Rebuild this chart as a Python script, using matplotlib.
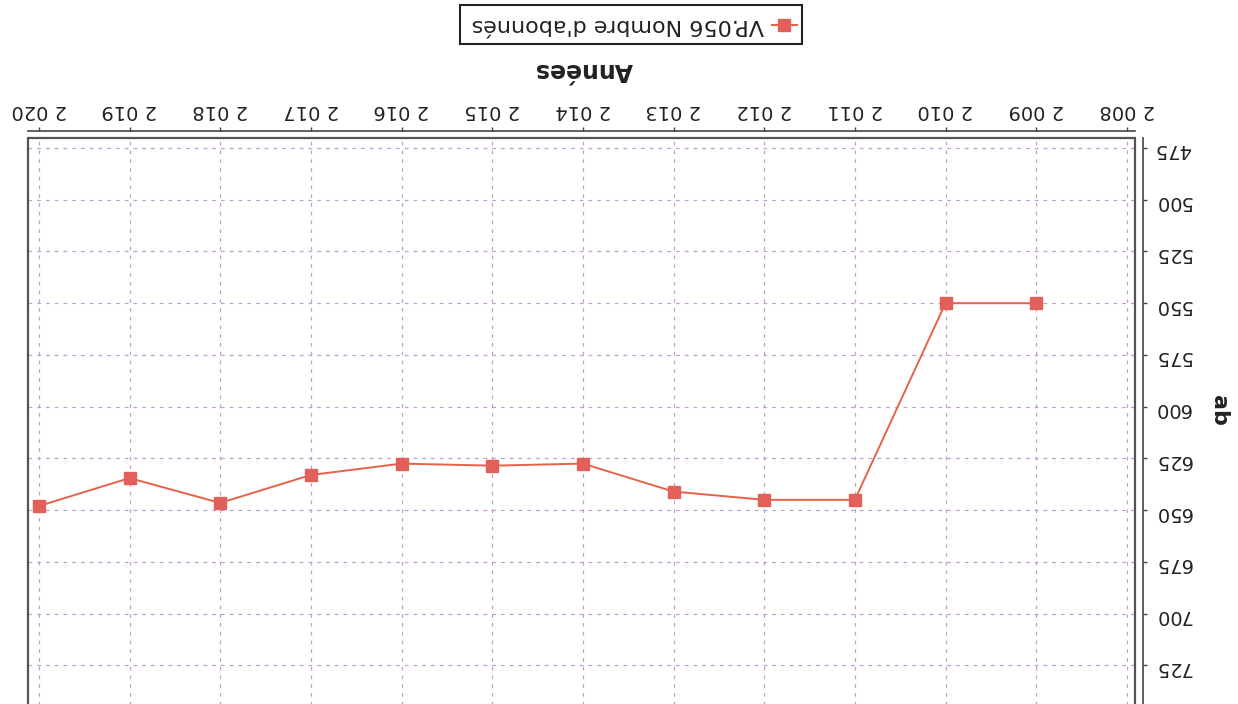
import matplotlib
matplotlib.use("Agg")
import matplotlib.pyplot as plt
from matplotlib.patches import Rectangle
from matplotlib.lines import Line2D

# Data (the reference is shown rotated by 180 degrees)
years = [2009, 2010, 2011, 2012, 2013, 2014, 2015, 2016, 2017, 2018, 2019, 2020]
abonnes = [550, 550, 645, 645, 641, 627.5, 628.5, 627.5, 633, 646.5, 634.5, 648]
x_ticks = [2008, 2009, 2010, 2011, 2012, 2013, 2014, 2015, 2016, 2017, 2018, 2019, 2020]
x_tick_labels = ["2 008", "2 009", "2 010", "2 011", "2 012", "2 013", "2 014",
                 "2 015", "2 016", "2 017", "2 018", "2 019", "2 020"]
y_ticks = [475, 500, 525, 550, 575, 600, 625, 650, 675, 700, 725]
y_tick_labels = [str(v) for v in y_ticks]
series_name = "VP.056 Nombre d'abonnés"
x_label = "Années"
y_label = "ab"

W, H = 1238, 704
fig = plt.figure(figsize=(W / 100, H / 100), dpi=100)
fig.patch.set_facecolor("white")

def fx(px):
    return px / W

def fy(py):
    return 1 - py / H

left, right, top, bottom = 28, 1135, 138, 718
ax = fig.add_axes([fx(left), fy(bottom), fx(right - left), fy(top) - fy(bottom)])

line_color = "#e8614a"
marker_color = "#e2605a"
ax.plot(years, abonnes, color=line_color, lw=1.4, marker="s", markersize=8.5,
        markerfacecolor=marker_color, markeredgecolor=marker_color, zorder=3)

# rotated view: x reversed, y reversed
ax.set_xlim(2020.12, 2007.91)
ax.set_ylim(750.4, 470.2)

ax.xaxis.tick_top()
ax.yaxis.tick_right()
ax.set_xticks(x_ticks)
ax.set_xticklabels(x_tick_labels)
ax.set_yticks(y_ticks)
ax.set_yticklabels(y_tick_labels)

ax.tick_params(axis="x", direction="out", length=3, width=1, color="#444444", pad=5,
               labelsize=14, labelcolor="#222222", labelrotation=180)
ax.tick_params(axis="y", direction="out", length=3, width=1, color="#444444", pad=5,
               labelsize=14, labelcolor="#222222", labelrotation=180)
for t in ax.xaxis.get_major_ticks():
    t.label2.set_va("bottom")
    t.label2.set_ha("center")
for t in ax.yaxis.get_major_ticks():
    t.label2.set_rotation_mode("anchor")
    t.label2.set_ha("right")
    t.label2.set_va("center_baseline")

ax.grid(True, color="#b48fc8", linestyle=(0, (3, 4)), linewidth=0.9, alpha=0.85)

for s in ["left", "bottom"]:
    ax.spines[s].set_visible(False)
ax.spines["top"].set_position(("outward", 5))
ax.spines["right"].set_position(("outward", 5.8))
ax.spines["top"].set_color("#444444")
ax.spines["right"].set_color("#444444")
ax.spines["top"].set_linewidth(1.2)
ax.spines["right"].set_linewidth(1.2)

# plot frame
ax.add_patch(Rectangle((0, 0), 1, 1, transform=ax.transAxes, fill=False,
                       edgecolor="#555555", lw=1.6, clip_on=False, zorder=4))

# axis labels (rotated by 180)
fig.text(fx(584), fy(70), x_label, rotation=180, ha="center", va="center",
         fontsize=17, fontweight="bold", color="#222222")
fig.text(fx(1219), fy(410), y_label, rotation=270, ha="center", va="center",
         fontsize=16, fontweight="bold", color="#222222")

# legend (rotated by 180)
fig.patches.append(Rectangle((fx(460), fy(44)), fx(802 - 460), fy(5) - fy(44),
                             transform=fig.transFigure, fill=False,
                             edgecolor="#222222", lw=1.5))
fig.lines.append(Line2D([fx(772), fx(797)], [fy(25), fy(25)], transform=fig.transFigure,
                        color=line_color, lw=1.5))
fig.lines.append(Line2D([fx(784)], [fy(25)], transform=fig.transFigure, marker="s",
                        markersize=8.5, color=marker_color, lw=0))
fig.text(fx(764), fy(25), series_name, rotation=180, ha="right", va="center",
         fontsize=16, color="#222222")

fig.savefig("out.png", dpi=100, facecolor="white")
